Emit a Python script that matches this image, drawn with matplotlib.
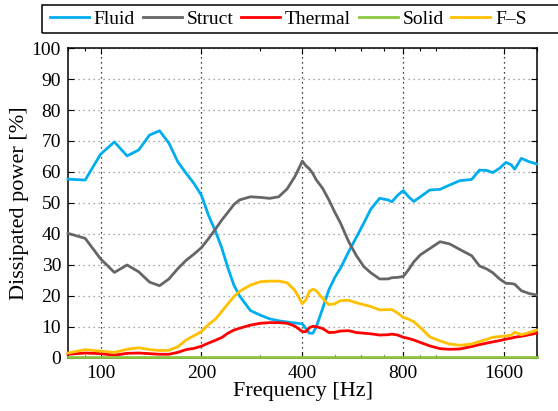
import numpy as np
import matplotlib
matplotlib.use("Agg")
import matplotlib.pyplot as plt
from matplotlib.patches import Rectangle
from matplotlib.ticker import FixedLocator, NullFormatter, LogLocator

# frequency points (Hz) at which the curves were read
freq = [80, 90, 100, 110, 120, 130, 140, 150, 160, 170, 180, 190, 200, 210, 220,
        230, 240, 250, 260, 280, 300, 320, 340, 360, 380, 400, 410, 420, 430, 440,
        460, 480, 500, 520, 550, 580, 610, 640, 680, 720, 740, 770, 800, 830, 860,
        900, 960, 1030, 1100, 1180, 1280, 1350, 1420, 1480, 1550, 1620, 1680, 1720,
        1800, 1900, 2000]

fluid = [57.7, 57.4, 65.7, 69.7, 65.2, 67.1, 71.9, 73.3, 69.3, 63.3, 59.6, 56.3, 52.5,
         46.0, 41.0, 35.5, 29.0, 23.5, 20.0, 15.3, 13.8, 12.6, 12.0, 11.6, 11.3, 11.0,
         9.5, 8.0, 8.0, 10.0, 16.0, 22.0, 26.0, 29.0, 34.3, 39.0, 43.5, 48.0, 51.5,
         51.0, 50.4, 52.5, 54.0, 52.0, 50.5, 52.0, 54.2, 54.4, 55.8, 57.2, 57.6, 60.6,
         60.5, 59.8, 61.2, 63.1, 62.3, 60.9, 64.4, 63.3, 62.6]

struct = [40.2, 38.6, 32.0, 27.6, 30.0, 27.8, 24.5, 23.3, 25.5, 28.8, 31.5, 33.5, 35.6,
          38.5, 41.5, 44.5, 47.0, 49.5, 51.0, 52.0, 51.8, 51.5, 52.0, 54.5, 58.5, 63.5,
          62.0, 61.0, 59.5, 57.5, 54.7, 51.0, 47.0, 43.5, 37.5, 33.0, 29.5, 27.5, 25.5,
          25.5, 25.9, 26.0, 26.3, 28.5, 31.0, 33.3, 35.3, 37.5, 36.8, 35.0, 33.0, 29.7,
          28.7, 27.5, 25.5, 24.1, 24.0, 23.8, 21.7, 20.8, 20.3]

thermal = [1.2, 1.6, 1.4, 0.9, 1.5, 1.6, 1.4, 1.2, 1.2, 1.8, 2.7, 3.1, 3.8, 4.8, 5.7,
           6.6, 8.0, 9.0, 9.6, 10.6, 11.2, 11.4, 11.4, 11.2, 10.3, 8.5, 8.5, 9.8, 10.2,
           10.1, 9.5, 8.2, 8.3, 8.7, 8.8, 8.2, 8.0, 7.8, 7.4, 7.5, 7.7, 7.4, 6.7, 6.3,
           5.8, 5.0, 3.9, 3.0, 2.8, 2.9, 3.7, 4.3, 4.8, 5.2, 5.6, 6.1, 6.4, 6.7, 7.0,
           7.5, 8.0]

solid = [0.3] * len(freq)

fs = [1.6, 2.7, 2.2, 1.8, 2.8, 3.3, 2.7, 2.4, 2.5, 3.6, 5.8, 7.2, 8.5, 10.8, 12.5,
      15.0, 17.5, 19.8, 21.5, 23.5, 24.6, 24.8, 24.8, 24.3, 21.8, 17.5, 18.8, 21.5,
      22.2, 21.7, 19.2, 17.2, 17.5, 18.5, 18.6, 17.8, 17.2, 16.6, 15.5, 15.6, 15.6,
      14.5, 13.1, 12.5, 11.7, 9.8, 6.8, 5.5, 4.5, 4.1, 4.5, 5.3, 6.0, 6.7, 6.9, 7.1,
      7.4, 8.3, 7.5, 8.2, 9.0]

labels = ["Fluid", "Struct", "Thermal", "Solid", "F\u2013S"]
colors = ["#00AEEF", "#666666", "#FF0000", "#8DC63F", "#FFC000"]
xticks = [100, 200, 400, 800, 1600]

plt.rcParams["font.family"] = ["Liberation Serif", "DejaVu Serif"]
plt.rcParams["font.size"] = 14

fig = plt.figure(figsize=(5.58, 4.11), dpi=100)
ax = fig.add_axes([0.1219, 0.1290, 0.8405, 0.7542])

series = [fluid, struct, thermal, solid, fs]
lines = []
for vals, lab, col in zip(series, labels, colors):
    ln, = ax.plot(freq, vals, color=col, lw=2.0, label=lab,
                  solid_joinstyle="round", zorder=3, clip_on=False)
    lines.append(ln)

ax.set_xscale("log")
ax.set_xlim(80, 2005)
ax.set_ylim(0, 100)
ax.xaxis.set_major_locator(FixedLocator(xticks))
ax.set_xticklabels([str(t) for t in xticks])
ax.xaxis.set_minor_locator(LogLocator(base=10, subs=np.arange(1, 10)))
ax.xaxis.set_minor_formatter(NullFormatter())
ax.set_yticks(np.arange(0, 101, 10))

ax.tick_params(which="both", direction="in", top=True, right=True, width=0.8)
ax.tick_params(which="major", length=4, pad=5)
ax.tick_params(which="minor", length=2)
for sp in ax.spines.values():
    sp.set_linewidth(1.1)

ax.xaxis.grid(True, which="major", linestyle=(0, (1, 3)), color="black", lw=0.9)
ax.yaxis.grid(True, which="major", linestyle=(0, (1, 3)), color="#888888", lw=0.9)

ax.set_xlabel("Frequency [Hz]", fontsize=16, labelpad=0)
ax.set_ylabel("Dissipated power [%]", fontsize=16, labelpad=2)

leg = fig.legend(lines, labels, ncol=5, loc="upper left",
                 bbox_to_anchor=(0.079, 0.99), frameon=False,
                 handlelength=2.0, handletextpad=0.25, columnspacing=0.4,
                 borderaxespad=0, borderpad=0.3, fontsize=14)
fig.patches.append(Rectangle((42 / 558, 1 - 33 / 411), 0.95, 28 / 411,
                             transform=fig.transFigure, fill=False,
                             edgecolor="black", lw=1.1))

fig.savefig("out.png", dpi=100)
